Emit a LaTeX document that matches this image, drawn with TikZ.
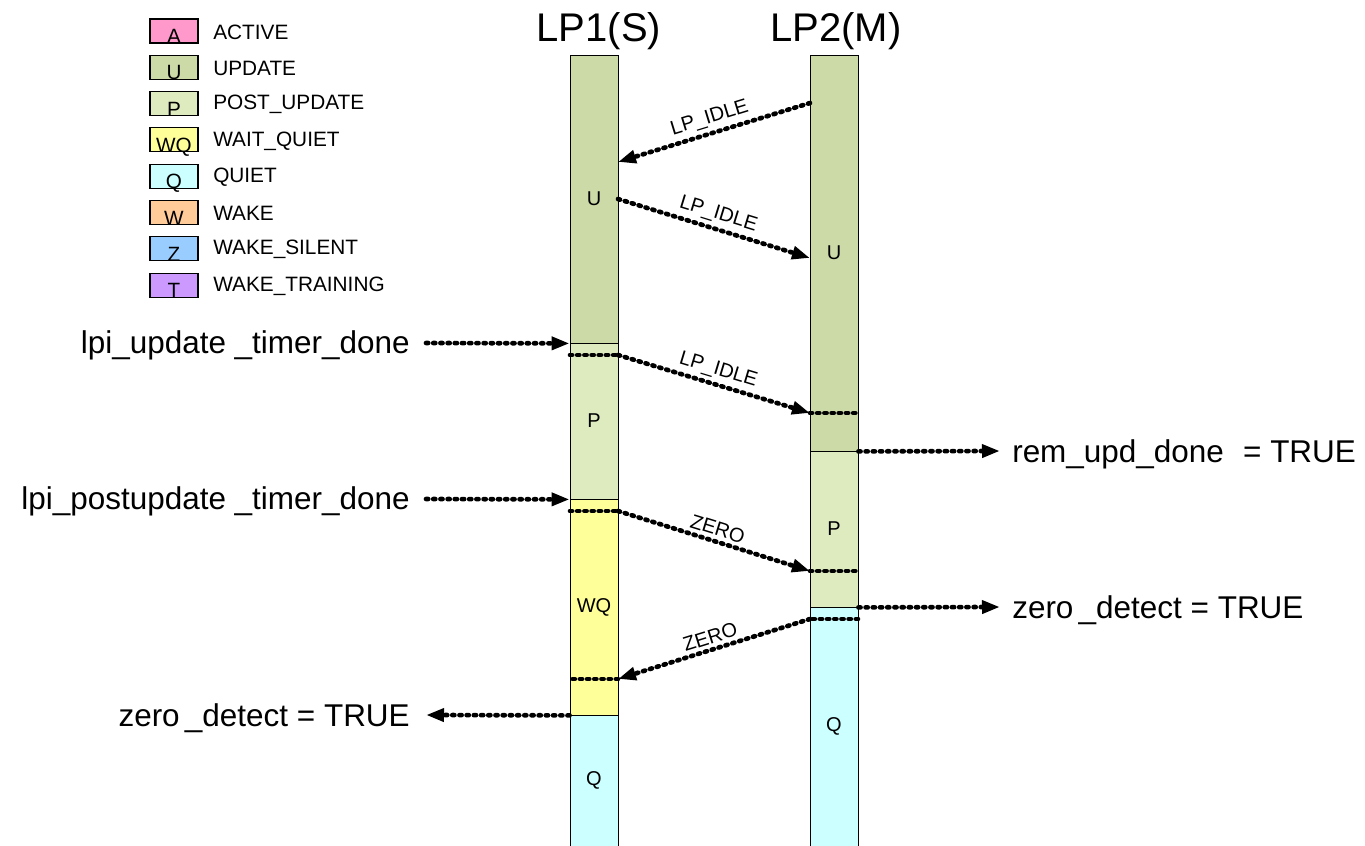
\documentclass[tikz,border=0pt]{standalone}
\usepackage{fontspec}
\setmainfont{Liberation Sans}
\usetikzlibrary{arrows.meta}
\definecolor{stA}{HTML}{FF99CC}
\definecolor{stU}{HTML}{CCDAA8}
\definecolor{stP}{HTML}{DEEBBF}
\definecolor{stWQ}{HTML}{FFFF99}
\definecolor{stQ}{HTML}{CCFFFF}
\definecolor{stW}{HTML}{FFCC99}
\definecolor{stZ}{HTML}{99CCFF}
\definecolor{stT}{HTML}{CC99FF}
\begin{document}
\begin{tikzpicture}[x=0.75pt,y=-0.75pt,
  seg/.style={draw=black, line width=0.6pt, minimum width=36pt, inner sep=0pt,
    font=\fontsize{15}{18}\selectfont},
  legbox/.style={draw=black, line width=0.8pt, minimum width=36pt, minimum height=18pt, inner sep=0pt},
  legletter/.style={anchor=base, inner sep=0pt, font=\fontsize{15.5}{18}\selectfont},
  legtext/.style={anchor=west, inner sep=0pt, font=\fontsize{15.6}{18}\selectfont},
  title/.style={anchor=base, inner sep=0pt, font=\fontsize{30}{36}\selectfont},
  event/.style={inner sep=0pt, font=\fontsize{23.6}{28}\selectfont},
  dotline/.style={line width=3.5pt, line cap=round, dash pattern=on 1.6pt off 3.8pt},
  msg/.style={dotline, -{Triangle[length=13.5pt,width=9.5pt]}},
  lbl/.style={midway, sloped, above, inner sep=2.5pt, font=\fontsize{15}{18}\selectfont}]
\useasboundingbox (0,0) rectangle (1365,846);

% legend
\foreach \n/\c/\t [count=\i from 0] in {A/stA/ACTIVE, U/stU/UPDATE, P/stP/POST\_UPDATE,
    WQ/stWQ/WAIT\_QUIET, Q/stQ/QUIET, W/stW/WAKE, Z/stZ/WAKE\_SILENT, T/stT/WAKE\_TRAINING}{
  \node[legbox, fill=\c] (leg\i) at (174, 31+36.3*\i) {};
  \node[legletter] (legl\i) at (174, 43.5+36.3*\i) {\n};
  \node[legtext] (legt\i) at (213, 32+36.3*\i) {\t};
}

% lifeline titles
\node[title] (t1) at (599,41) {LP1(S)};
\node[title] (t2) at (836,41) {LP2(M)};

% LP1 states
\node[seg, fill=stU,  minimum height=216pt]   (s1u)  at (594,199)   {U};
\node[seg, fill=stP,  minimum height=117pt]   (s1p)  at (594,421)   {P};
\node[seg, fill=stWQ, minimum height=162pt]   (s1wq) at (594,607)   {WQ};
\node[seg, fill=stQ,  minimum height=98.25pt] (s1q)  at (594,780.5) {Q};

% LP2 states
\node[seg, fill=stU, minimum height=297pt]    (s2u) at (834,253)   {U};
\node[seg, fill=stP, minimum height=117pt]    (s2p) at (834,529)   {P};
\node[seg, fill=stQ, minimum height=179.25pt] (s2q) at (834,726.5) {Q};

% message end points on the lifelines
\coordinate (m1a) at (810,103); \coordinate (m1b) at (618,162);
\coordinate (m2a) at (618,199); \coordinate (m2b) at (810,258);
\coordinate (m3l) at (570,355); \coordinate (m3a) at (618,355);
\coordinate (m3b) at (810,413); \coordinate (m3r) at (858,413);
\coordinate (m4l) at (570,511); \coordinate (m4a) at (618,511);
\coordinate (m4b) at (810,571); \coordinate (m4r) at (858,571);
\coordinate (m5r) at (858,619); \coordinate (m5a) at (810,619);
\coordinate (m5b) at (618,679); \coordinate (m5l) at (570,679);
\coordinate (e1) at (426,343); \coordinate (e2) at (426,499);
\coordinate (e3) at (1000,451); \coordinate (e4) at (1000,607);
\coordinate (e5) at (426,715);

% messages between the two link partners
\draw[msg] (m1a) -- node[lbl] {LP\_IDLE} (m1b);
\draw[msg] (m2a) -- node[lbl] {LP\_IDLE} (m2b);
\draw[dotline] (m3l) -- (m3a);
\draw[msg] (m3a) -- node[lbl] {LP\_IDLE} (m3b);
\draw[dotline] (m3b) -- (m3r);
\draw[dotline] (m4l) -- (m4a);
\draw[msg] (m4a) -- node[lbl] {ZERO} (m4b);
\draw[dotline] (m4b) -- (m4r);
\draw[dotline] (m5r) -- (m5a);
\draw[msg] (m5a) -- node[lbl] {ZERO} (m5b);
\draw[dotline] (m5b) -- (m5l);

% external events
\node[event, anchor=base east] (ev1) at (410,353) {lpi\_update \_timer\_done};
\node[event, anchor=base east] (ev2) at (410,509) {lpi\_postupdate \_timer\_done};
\node[event, anchor=base west] (ev3) at (1012,462) {rem\_upd\_done\,\, = TRUE};
\node[event, anchor=base west] (ev4) at (1012,618) {zero\,\_detect = TRUE};
\node[event, anchor=base east] (ev5) at (410,726) {zero\,\_detect = TRUE};
\draw[msg] (e1) -- (s1u.south west);
\draw[msg] (e2) -- (s1p.south west);
\draw[msg] (s2u.south east) -- (e3);
\draw[msg] (s2p.south east) -- (e4);
\draw[msg] (s1wq.south west) -- (e5);
\end{tikzpicture}
\end{document}
